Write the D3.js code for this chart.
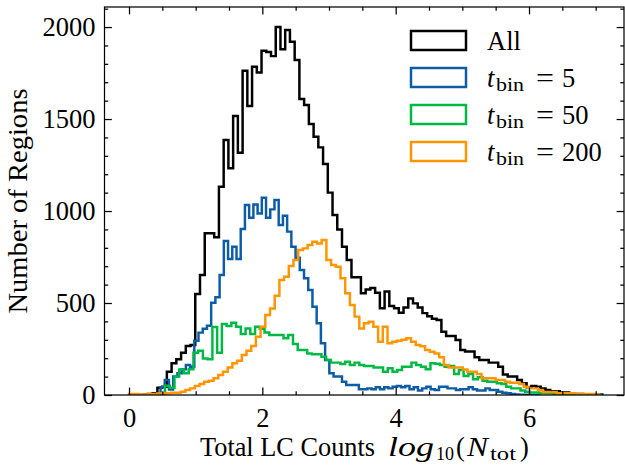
<!DOCTYPE html>
<html><head><meta charset="utf-8">
<script src="https://cdn.jsdelivr.net/npm/d3@7"></script>
<style>
body{margin:0;background:#fff;}
svg{display:block;}
text{font-family:"Liberation Serif","Times New Roman",serif;fill:#000;}
</style>
</head><body>
<svg id="c" width="625" height="471"></svg>
<script>
// ---- data (histogram counts per bin) ----
const allCounts = [0,0,0,2,5,10,40,45,127,172,
  194,230,266,272,549,652,879,879,858,1132,
  1386,1232,1516,1317,1763,1571,1784,1753,1871,1865,
  1842,2000,1879,1984,1920,1821,1609,1576,1473,1404,
  1346,1255,1100,978,900,806,734,640,640,553,
  574,581,556,471,562,484,471,447,475,525,
  498,476,445,428,415,408,344,321,321,299,
  245,236,236,205,190,190,176,176,154,112,
  100,100,82,64,42,49,45,36,27,20,
  20,14,14,6,6,6,3,3,3,3];
const bin5Counts = [42,82,30,100,118,140,163,154,295,339,
  360,377,502,531,652,837,739,806,739,902,
  1033,964,1036,987,1072,964,1009,1060,924,974,
  888,806,746,679,634,571,480,390,281,190,
  118,100,100,72,54,54,54,31,31,36,
  31,42,31,42,36,45,49,42,49,31,
  42,24,36,45,31,27,45,45,36,36,
  27,31,31,42,31,24,24,36,27,27,
  18,12,9,5,3,2,1,0,0,0];
const bin50Counts = [50,40,100,139,118,140,230,241,199,194,
  370,230,386,375,393,371,331,362,331,371,
  360,340,326,326,326,308,326,277,245,245,
  226,222,222,208,190,176,176,168,181,163,
  176,163,158,158,150,150,127,145,127,136,
  154,154,176,163,154,140,172,170,163,154,
  158,114,136,103,114,85,96,78,72,72,
  64,60,45,36,36,24,18,13,13,9,
  9,9,5,5,5,3,3,3,3,2,2,1];
const bin200Counts = [5,5,3,3,5,5,8,8,10,12,
  12,18,27,36,49,60,72,78,91,109,
  127,150,172,186,217,241,266,317,371,435,
  470,540,625,643,701,734,788,797,815,833,
  824,842,734,707,697,634,553,489,426,362,
  390,398,371,290,371,281,290,295,300,308,
  290,272,265,245,235,225,205,163,150,150,
  150,139,127,127,114,91,91,91,82,82,
  72,67,67,60,45,36,36,27,16,16,
  16,9,9,9,9,5,5,5,5,3];
// first bin edge and bin width of each histogram (log10 units)
const binStarts = [0, 0.473, 0.54, 0];
const binWidths = [0.071, 0.0633, 0.0711, 0.0705];
const tBinValues = ["", "5", "50", "200"];
const xTickValues = [0, 2, 4, 6];
const yTickValues = [0, 500, 1000, 1500, 2000];

// ---- layout ----
const L = 104.5, R = 624, T = 7, B = 395;
const colors = ["#000000", "#0C5DA5", "#00B945", "#FF9500"];
const FS = 26.5, LW = 2.48, AW = 1.24, MAJ = 7.4, MIN = 3.7;

const svg = d3.select("#c");
const x = d3.scaleLinear().domain([-0.3675, 7.425]).range([L, R]);
const y = d3.scaleLinear().domain([0, 2109]).range([B, T]);

svg.append("defs").append("clipPath").attr("id", "clip")
  .append("rect").attr("x", L).attr("y", T).attr("width", R - L).attr("height", B - T);

// ---- histograms (step) ----
const series = [allCounts, bin5Counts, bin50Counts, bin200Counts];
const line = d3.line().x(d => x(d[0])).y(d => y(d[1]));
series.forEach((vals, k) => {
  const s = binStarts[k], w = binWidths[k];
  const pts = [[s, 0]];
  vals.forEach((v, i) => { pts.push([s + i * w, v]); pts.push([s + (i + 1) * w, v]); });
  pts.push([s + vals.length * w, 0]);
  svg.append("path").attr("d", line(pts))
    .attr("fill", "none").attr("stroke", colors[k]).attr("stroke-width", LW)
    .attr("stroke-linejoin", "miter").attr("clip-path", "url(#clip)");
});

// ---- axes / ticks ----
const xMinor = d3.range(0, 7.01, 0.5).filter(v => v % 2 !== 0);
const yMinor = d3.range(100, 2101, 100).filter(v => v % 500 !== 0);

function styleAxis(g) {
  g.select(".domain").remove();
  g.selectAll(".tick line").attr("stroke", "#000").attr("stroke-width", AW);
  g.selectAll(".tick text").style("font-family", '"Liberation Serif",serif')
    .style("font-size", FS + "px").attr("fill", "#000");
}
svg.append("g").attr("transform", `translate(0,${B})`)
  .call(d3.axisBottom(x).tickValues(xTickValues).tickSize(-MAJ).tickPadding(13).tickFormat(d3.format("d")))
  .call(styleAxis);
svg.append("g").attr("transform", `translate(0,${B})`)
  .call(d3.axisBottom(x).tickValues(xMinor).tickSize(-MIN).tickFormat(""))
  .call(styleAxis);
svg.append("g").attr("transform", `translate(0,${T})`)
  .call(d3.axisTop(x).tickValues(xTickValues).tickSize(-MAJ).tickFormat(""))
  .call(styleAxis);
svg.append("g").attr("transform", `translate(0,${T})`)
  .call(d3.axisTop(x).tickValues(xMinor).tickSize(-MIN).tickFormat(""))
  .call(styleAxis);
svg.append("g").attr("transform", `translate(${L},0)`)
  .call(d3.axisLeft(y).tickValues(yTickValues).tickSize(-MAJ).tickPadding(9).tickFormat(d3.format("d")))
  .call(styleAxis);
svg.append("g").attr("transform", `translate(${L},0)`)
  .call(d3.axisLeft(y).tickValues(yMinor).tickSize(-MIN).tickFormat(""))
  .call(styleAxis);
svg.append("g").attr("transform", `translate(${R},0)`)
  .call(d3.axisRight(y).tickValues(yTickValues).tickSize(-MAJ).tickFormat(""))
  .call(styleAxis);
svg.append("g").attr("transform", `translate(${R},0)`)
  .call(d3.axisRight(y).tickValues(yMinor).tickSize(-MIN).tickFormat(""))
  .call(styleAxis);

svg.append("rect").attr("x", L).attr("y", T).attr("width", R - L).attr("height", B - T)
  .attr("fill", "none").attr("stroke", "#000").attr("stroke-width", AW);

// ---- axis labels ----
const xl = svg.append("text").attr("y", 456).style("font-size", FS + "px");
xl.append("tspan").attr("x", 200).attr("textLength", 175).attr("lengthAdjust", "spacingAndGlyphs").text("Total LC Counts");
xl.append("tspan").attr("x", 388).attr("textLength", 46).attr("lengthAdjust", "spacingAndGlyphs")
  .style("font-style", "italic").text("log");
xl.append("tspan").attr("x", 436).attr("dy", 4).attr("textLength", 18).attr("lengthAdjust", "spacingAndGlyphs")
  .style("font-size", "19px").text("10");
xl.append("tspan").attr("x", 456).attr("dy", -4).text("(");
xl.append("tspan").attr("x", 467).attr("textLength", 21).attr("lengthAdjust", "spacingAndGlyphs")
  .style("font-style", "italic").text("N");
xl.append("tspan").attr("x", 490).attr("dy", 4).attr("textLength", 26).attr("lengthAdjust", "spacingAndGlyphs")
  .style("font-size", "19px").text("tot");
xl.append("tspan").attr("x", 520).attr("dy", -4).text(")");

svg.append("text").attr("transform", `translate(27,${(T + B) / 2}) rotate(-90)`)
  .attr("text-anchor", "middle").style("font-size", FS + "px")
  .attr("textLength", 225).attr("lengthAdjust", "spacingAndGlyphs")
  .text("Number of Regions");

// ---- legend ----
const lg = svg.append("g");
const rows = lg.selectAll("g").data(tBinValues).join("g")
  .attr("transform", (d, i) => `translate(411,${31 + i * 37})`);
rows.append("rect").attr("width", 55).attr("height", 19).attr("fill", "none")
  .attr("stroke", (d, i) => colors[i]).attr("stroke-width", LW);
rows.each(function (d, i) {
  const t = d3.select(this).append("text").attr("y", 18.5).style("font-size", FS + "px");
  if (i === 0) {
    t.append("tspan").attr("x", 76).text("All");
  } else {
    t.append("tspan").attr("x", 76).style("font-style", "italic").text("t");
    t.append("tspan").attr("x", 85).attr("dy", 4).style("font-size", "19px")
      .attr("textLength", 28).attr("lengthAdjust", "spacingAndGlyphs").text("bin");
    t.append("tspan").attr("x", 125).attr("dy", -4).attr("textLength", 18).attr("lengthAdjust", "spacingAndGlyphs").text("=");
    t.append("tspan").attr("x", 151).text(d);
  }
});
</script>
</body></html>
